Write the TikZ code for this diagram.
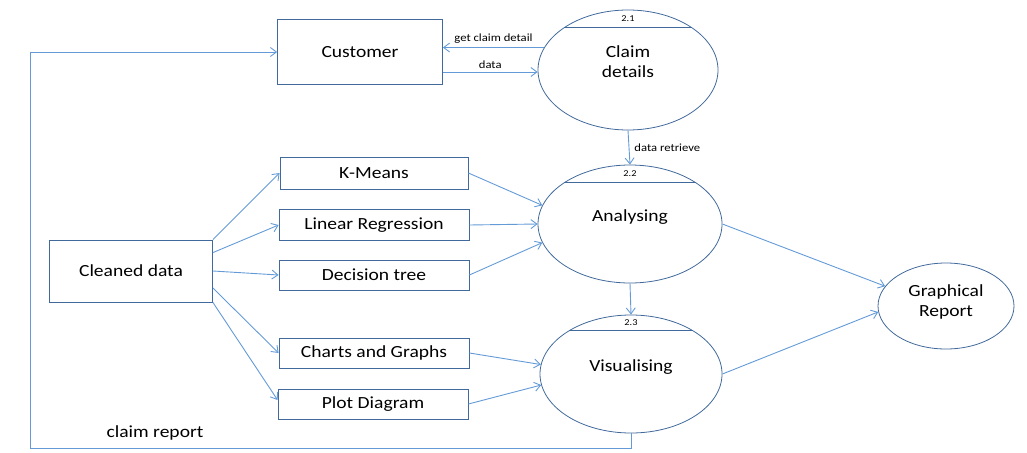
\documentclass[tikz,border=0pt]{standalone}
\usepackage{fontspec}
\setmainfont{Carlito}[FakeStretch=1.15]
\usetikzlibrary{shapes.geometric,arrows.meta}

\definecolor{flowblue}{RGB}{100,155,215}
\definecolor{edgeblue}{RGB}{65,105,155}

\tikzset{
  procbox/.style={draw=edgeblue,line width=0.8pt,minimum width=190,
    minimum height=30,inner sep=0pt,font=\fontsize{17}{19}\selectfont},
  bubble/.style={ellipse,draw=edgeblue,line width=0.8pt,inner sep=0pt,
    align=center,text depth=16pt,font=\fontsize{17}{20}\selectfont},
  flow/.style={draw=flowblue,line width=0.9pt,-{Straight Barb[length=6pt,width=9pt]}},
  tag/.style={font=\fontsize{11}{12}\selectfont,inner sep=1pt},
  num/.style={font=\fontsize{9}{10}\selectfont,inner sep=0pt}
}

\begin{document}
\begin{tikzpicture}[x=1pt,y=-1pt]
  \useasboundingbox (0,0) rectangle (1027,452);

  % boxes
  \node[procbox,minimum width=165,minimum height=65] (cust) at (360,52) {Customer};
  \node[procbox,minimum width=163,minimum height=62] (clean) at (131,271) {Cleaned data};
  \node[procbox,minimum width=188,minimum height=32] (kmeans) at (374,173) {K-Means};
  \node[procbox,minimum height=31] (linreg) at (374,225) {Linear Regression};
  \node[procbox] (dtree) at (374,275) {Decision tree};
  \node[procbox] (charts) at (374,353) {Charts and Graphs};
  \node[procbox] (plot) at (373,404) {Plot Diagram};

  % processes
  \node[bubble,minimum width=180,minimum height=120] (cd) at (628,70) {Claim\\details};
  \node[bubble,minimum width=184,minimum height=118] (an) at (630,224) {Analysing};
  \node[bubble,minimum width=182,minimum height=118] (vis) at (631,374) {Visualising};
  \node[bubble,minimum width=136,minimum height=86,text depth=10pt] (gr) at (946,306) {Graphical\\Report};

  \draw[edgeblue,line width=0.8pt] (cd.34) -- (cd.146);
  \draw[edgeblue,line width=0.8pt] (an.32) -- (an.148);
  \draw[edgeblue,line width=0.8pt] (vis.35) -- (vis.145);
  \node[num] (cdnum) at ([yshift=-9]cd.north) {2.1};
  \node[num] (annum) at ([yshift=-9]an.north) {2.2};
  \node[num] (visnum) at ([yshift=-8]vis.north) {2.3};

  % flows
  \draw[flow] (cd.165) -- (cd.165 -| cust.east)
    node[tag,midway,above=3pt] (getlbl) {get claim detail};
  \draw[flow] ([yshift=-20]cust.east) -- ([yshift=-20]cust.east -| cd.west)
    node[tag,midway,above=2pt] (datalbl) {data};
  \draw[flow] (cd.south) -- (an.north)
    node[tag,midway,right=4pt] (retrlbl) {data retrieve};
  \draw[flow] (an.south) -- (vis.north);

  \draw[flow] (clean.north east) -- (kmeans.west);
  \draw[flow] ([yshift=-13]clean.north east) -- (linreg.west);
  \draw[flow] (clean.east) -- (dtree.west);
  \draw[flow] ([yshift=-17]clean.east) -- (charts.west);
  \draw[flow] (clean.south east) -- ([yshift=4]plot.west);

  \draw[flow] (kmeans.east) -- (an.168);
  \draw[flow] (linreg.east) -- (an.180);
  \draw[flow] (dtree.east) -- (an.192);
  \draw[flow] (charts.east) -- (vis.174);
  \draw[flow] (plot.east) -- (vis.187);

  \draw[flow] (an.east) -- (gr.162);
  \draw[flow] (vis.east) -- (gr.185);

  \coordinate (loop) at (30,448);
  \draw[flow] (vis.south) |- (loop) |- (cust.west);
  \node[font=\fontsize{17}{19}\selectfont] (replbl) at (155,433) {claim report};
\end{tikzpicture}
\end{document}
